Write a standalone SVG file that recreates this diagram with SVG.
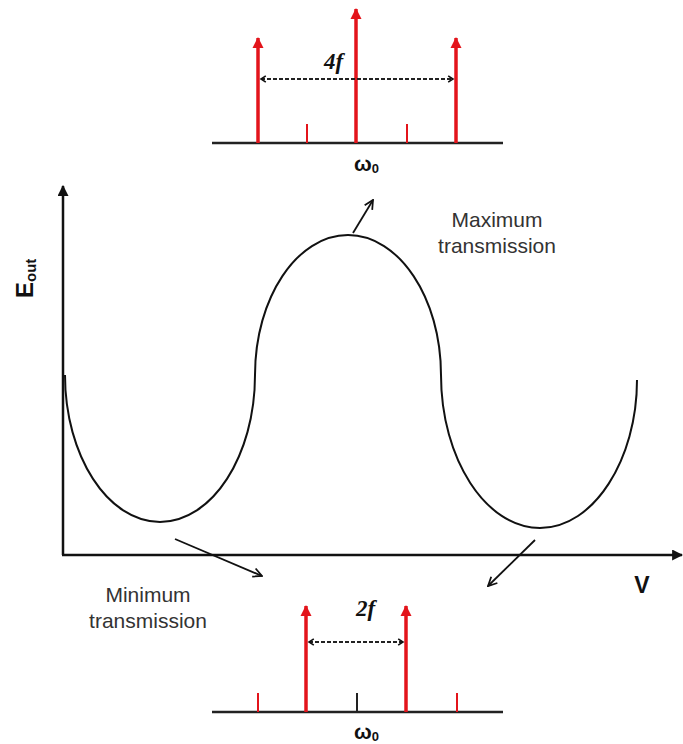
<svg xmlns="http://www.w3.org/2000/svg" width="683" height="744" viewBox="0 0 683 744">
<defs>
<marker id="redhead" viewBox="0 0 12 10" refX="10" refY="5" markerWidth="12" markerHeight="12" markerUnits="userSpaceOnUse" orient="auto">
<path d="M0,-0.5 L11,5 L0,10.5 Z" fill="#e3141b"/>
</marker>
<marker id="blackhead" viewBox="0 0 10 10" refX="9" refY="5" markerWidth="11" markerHeight="11" markerUnits="userSpaceOnUse" orient="auto">
<path d="M0,0 L10,5 L0,10 Z" fill="#111"/>
</marker>
<marker id="openhead" viewBox="0 0 10 10" refX="9" refY="5" markerWidth="11" markerHeight="11" markerUnits="userSpaceOnUse" orient="auto">
<path d="M1,1 L9,5 L1,9" fill="none" stroke="#111" stroke-width="1.6"/>
</marker>
<marker id="chev" viewBox="0 0 10 10" refX="8" refY="5" markerWidth="8" markerHeight="10" markerUnits="userSpaceOnUse" orient="auto-start-reverse">
<path d="M2,1 L8,5 L2,9" fill="none" stroke="#111" stroke-width="2"/>
</marker>
</defs>
<style>
.base{stroke:#222;stroke-width:2.5;fill:none}
.redarrow{stroke:#e3141b;stroke-width:3.5;fill:none;marker-end:url(#redhead)}
.tick{stroke:#e3141b;stroke-width:2;fill:none}
.btick{stroke:#222;stroke-width:2;fill:none}
.dash{stroke:#222;stroke-width:2;stroke-dasharray:4 2;fill:none;marker-start:url(#chev);marker-end:url(#chev)}
.axis{stroke:#111;stroke-width:2.5;fill:none;marker-end:url(#blackhead)}
.curve{stroke:#111;stroke-width:2;fill:none}
.ptr{stroke:#111;stroke-width:1.8;fill:none;marker-end:url(#openhead)}
.lbl{font-family:"Liberation Sans",Arial,sans-serif;font-size:21px;fill:#333;text-anchor:middle}
.bold{font-family:"Liberation Sans",Arial,sans-serif;font-weight:bold;fill:#111}
.ital{font-family:"Liberation Serif","Times New Roman",serif;font-style:italic;font-weight:bold;font-size:23px;fill:#111}
</style>
<g id="top-spectrum">
<line class="base" x1="212" y1="143" x2="503" y2="143"/>
<line class="redarrow" x1="258" y1="143" x2="258" y2="38"/>
<line class="redarrow" x1="356" y1="143" x2="356" y2="9"/>
<line class="redarrow" x1="456" y1="143" x2="456" y2="38"/>
<line class="tick" x1="307" y1="124" x2="307" y2="143"/>
<line class="tick" x1="407" y1="124" x2="407" y2="143"/>
<line class="dash" x1="261" y1="79" x2="453" y2="79"/>
<text class="ital" x="324" y="69">4f</text>
<text class="bold" x="354" y="171" font-size="21">ω<tspan font-size="13" dy="2">0</tspan></text>
</g>
<g id="bottom-spectrum">
<line class="base" x1="212" y1="712" x2="503" y2="712"/>
<line class="redarrow" x1="306" y1="712" x2="306" y2="606"/>
<line class="redarrow" x1="406" y1="712" x2="406" y2="606"/>
<line class="tick" x1="258" y1="693" x2="258" y2="712"/>
<line class="btick" x1="357" y1="693" x2="357" y2="712"/>
<line class="tick" x1="457" y1="693" x2="457" y2="712"/>
<line class="dash" x1="309" y1="642" x2="403" y2="642"/>
<text class="ital" x="356" y="616">2f</text>
<text class="bold" x="354" y="739" font-size="21">ω<tspan font-size="13" dy="2">0</tspan></text>
</g>
<g id="axes">
<line class="axis" x1="63" y1="555" x2="63" y2="186"/>
<line class="axis" x1="62" y1="555" x2="682" y2="555"/>
<text class="bold" font-size="24" transform="translate(33,298) rotate(-90)">E<tspan font-size="15" dy="3">out</tspan></text>
<text class="bold" font-size="23" x="642" y="593" text-anchor="middle">V</text>
</g>
<g id="curve">
<path class="curve" d="M65,375 C65,456 108,522 160,522 C212,522 255,456 255,375 C255,298 297,235 348,235 C399,235 441,298 441,375 C441,459 486,528 540,528 C594,528 637,459 637,380"/>
</g>
<g id="labels">
<text class="lbl" x="497" y="227">Maximum</text>
<text class="lbl" x="497" y="253">transmission</text>
<text class="lbl" x="148" y="602">Minimum</text>
<text class="lbl" x="148" y="628">transmission</text>
</g>
<g id="connectors">
<line class="ptr" x1="353" y1="233" x2="373" y2="200"/>
<line class="ptr" x1="175" y1="539" x2="262" y2="576"/>
<line class="ptr" x1="535" y1="540" x2="488" y2="586"/>
</g>
</svg>
